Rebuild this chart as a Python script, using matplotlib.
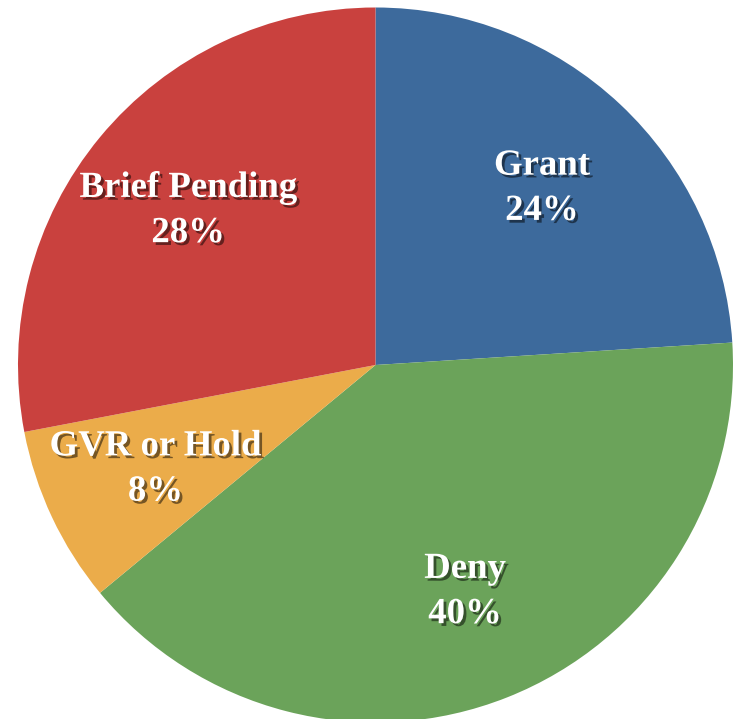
import matplotlib
matplotlib.use("Agg")
import matplotlib.pyplot as plt
import matplotlib.patheffects as pe

# Data
labels = ["Grant", "Deny", "GVR or Hold", "Brief Pending"]
shares = [24, 40, 8, 28]
colors = ["#3d6a9c", "#6ba35a", "#ebac4a", "#c9413e"]

# Figure in pixel units
fig = plt.figure(figsize=(7.33, 7.19), dpi=100)
ax = fig.add_axes([0, 0, 1, 1])

wedges, texts = ax.pie(
    shares,
    labels=[f"{l}\n{s}%" for l, s in zip(labels, shares)],
    colors=colors,
    startangle=90,
    counterclock=False,
    center=(375.5, 354),
    radius=357.5,
    labeldistance=0.68,
    wedgeprops=dict(linewidth=0),
)

for t in texts:
    t.set_ha("center")
    t.set_va("center")
    t.set_color("white")
    t.set_fontsize(26.5)
    t.set_fontweight("bold")
    t.set_family("Liberation Serif")
    t.set_linespacing(1.38)
    t.set_path_effects([
        pe.withSimplePatchShadow(offset=(2, -2), shadow_rgbFace="black", alpha=0.5),
    ])

ax.set_xlim(0, 733)
ax.set_ylim(0, 719)
ax.set_aspect("auto")
ax.axis("off")

fig.savefig("out.png", dpi=100, facecolor="white")
plt.close(fig)
